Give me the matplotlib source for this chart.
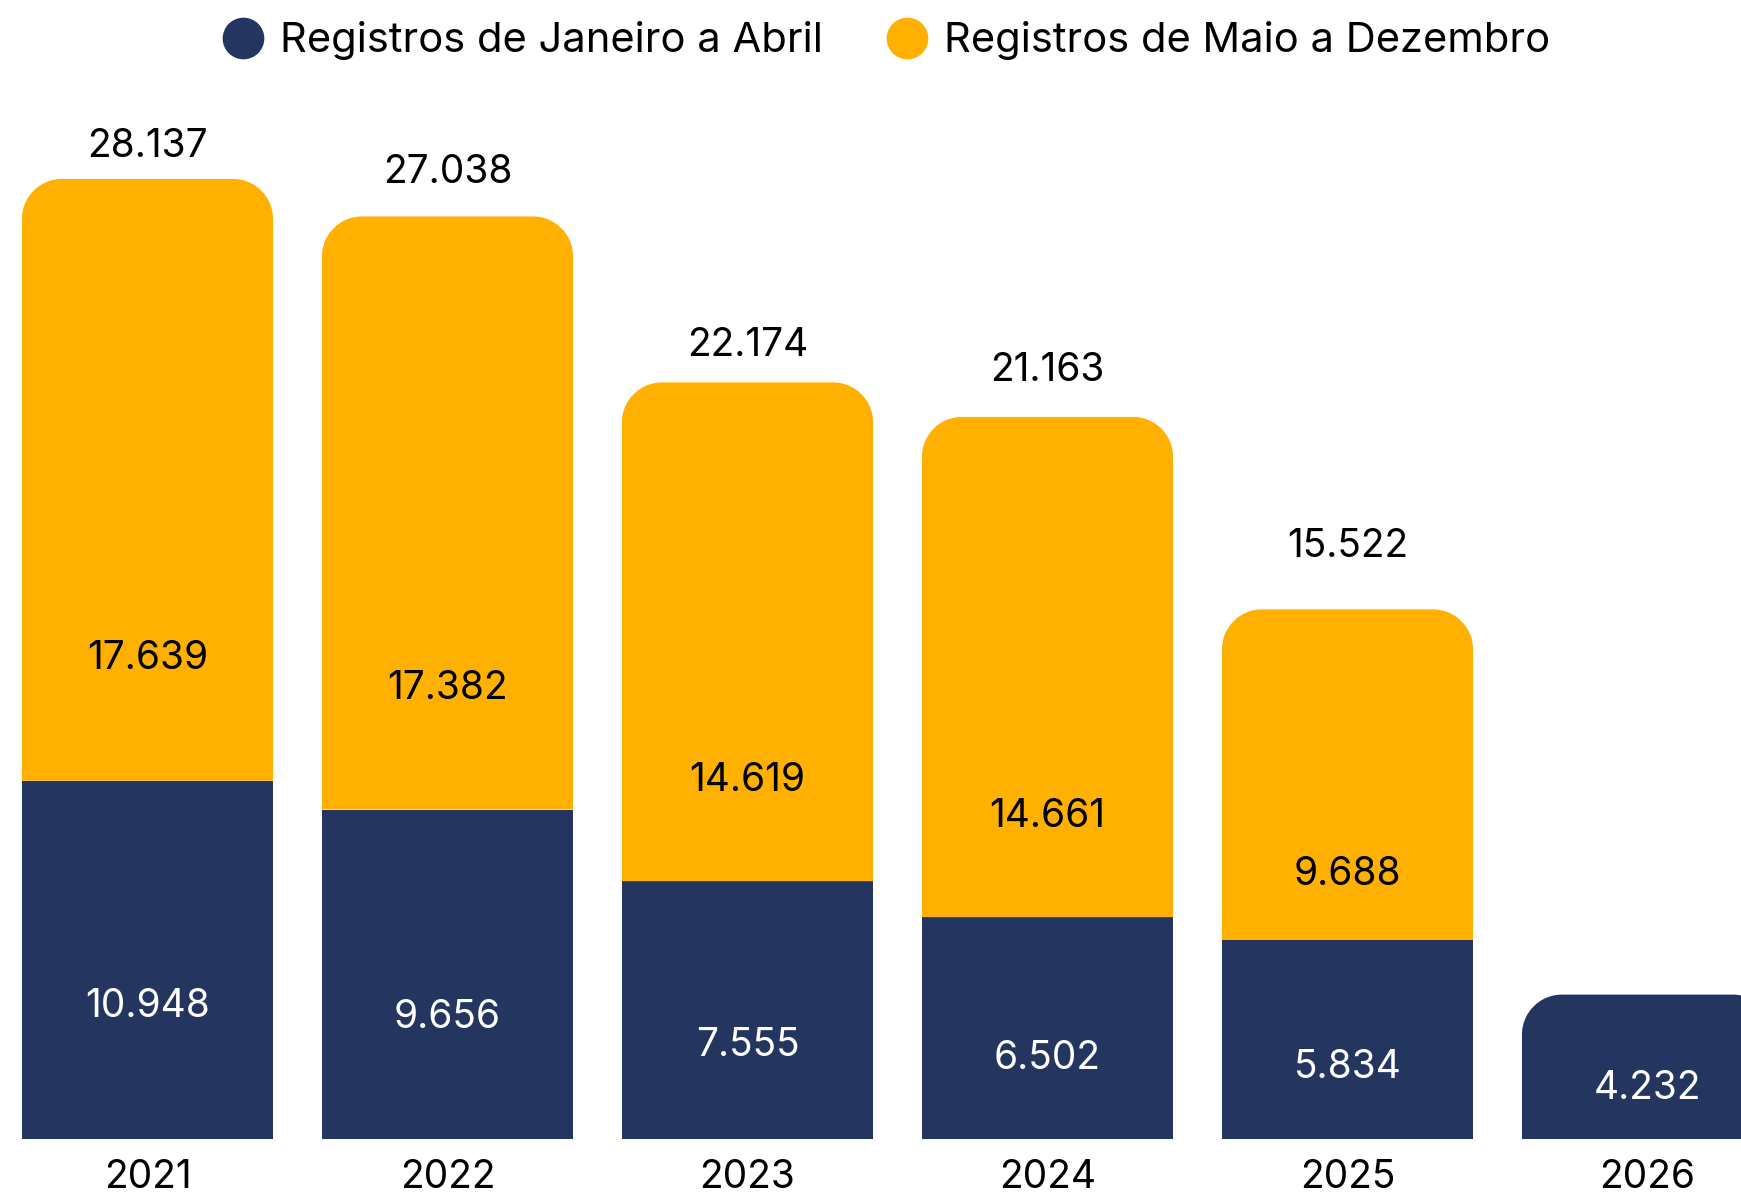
import numpy as np
import matplotlib
matplotlib.use("Agg")
import matplotlib.pyplot as plt
from matplotlib.path import Path
from matplotlib.patches import PathPatch
from matplotlib.lines import Line2D

plt.rcParams['font.family'] = ['Inter', 'DejaVu Sans']

# data
anos = ['2021', '2022', '2023', '2024', '2025', '2026']
jan_abr = [10498, 9656, 7555, 6502, 5834, 4232]      # drawn height of the 2021 bar fits 28.137 - 17.639
mai_dez = [17639, 17382, 14619, 14661, 9688, 0]
rot_jan_abr = ['10.948', '9.656', '7.555', '6.502', '5.834', '4.232']
rot_mai_dez = ['17.639', '17.382', '14.619', '14.661', '9.688', '']
rot_total = ['28.137', '27.038', '22.174', '21.163', '15.522', '']

AZUL = '#24365f'
LARANJA = '#ffb000'

W, H = 1741, 1194
fig = plt.figure(figsize=(W / 100, H / 100), dpi=100)
base_px = 1139
ax = fig.add_axes([0, (H - base_px) / H, 1, base_px / H])
px_por_unid = 0.03412
ax.set_xlim(-147.5 / 300, (W - 147.5) / 300)
ax.set_ylim(0, base_px / px_por_unid)
ax.axis('off')

x = np.arange(len(anos))
largura = 0.837


def topo_arredondado(ax, ret, r_px=40):
    # swap the plain rectangle for one with rounded top corners
    x0, y0 = ret.get_x(), ret.get_y()
    w, h = ret.get_width(), ret.get_height()
    if h <= 0:
        return
    ret.set_visible(False)
    x_lim, y_lim = ax.get_xlim(), ax.get_ylim()
    bb = ax.get_window_extent()
    rx = r_px * (x_lim[1] - x_lim[0]) / bb.width
    ry = min(r_px * (y_lim[1] - y_lim[0]) / bb.height, h)
    k = 0.5523
    y1 = y0 + h
    verts = [(x0, y0), (x0, y1 - ry),
             (x0, y1 - ry + k * ry), (x0 + rx - k * rx, y1), (x0 + rx, y1),
             (x0 + w - rx, y1),
             (x0 + w - rx + k * rx, y1), (x0 + w, y1 - ry + k * ry), (x0 + w, y1 - ry),
             (x0 + w, y0), (x0, y0)]
    codes = [Path.MOVETO, Path.LINETO,
             Path.CURVE4, Path.CURVE4, Path.CURVE4,
             Path.LINETO,
             Path.CURVE4, Path.CURVE4, Path.CURVE4,
             Path.LINETO, Path.CLOSEPOLY]
    ax.add_patch(PathPatch(Path(verts, codes), facecolor=ret.get_facecolor(),
                           edgecolor='none', lw=0))


b1 = ax.bar(x, jan_abr, width=largura, color=AZUL, linewidth=0)
b2 = ax.bar(x, mai_dez, width=largura, bottom=jan_abr, color=LARANJA, linewidth=0)

for i in range(len(anos)):
    if mai_dez[i] > 0:
        topo_arredondado(ax, b2[i])
    else:
        topo_arredondado(ax, b1[i])

fs = 28
folga_total = [10, 18, 13, 20, 32, 0]   # gap (pt) above each bar for the total
for i in range(len(anos)):
    ax.text(x[i], jan_abr[i] * 0.38, rot_jan_abr[i], ha='center', va='center_baseline',
            color='white', fontsize=fs)
    if mai_dez[i] > 0:
        ax.text(x[i], jan_abr[i] + mai_dez[i] * 0.21, rot_mai_dez[i], ha='center',
                va='center_baseline', color='black', fontsize=fs)
        ax.annotate(rot_total[i], (x[i], jan_abr[i] + mai_dez[i]),
                    xytext=(0, folga_total[i]), textcoords='offset points',
                    ha='center', va='bottom', color='black', fontsize=fs)
    ax.annotate(anos[i], (x[i], 0), xytext=(0, -35), textcoords='offset points',
                ha='center', va='baseline', color='black', fontsize=fs)

handles = [Line2D([], [], marker='o', ls='', color=AZUL, markersize=29),
           Line2D([], [], marker='o', ls='', color=LARANJA, markersize=29)]
fig.legend(handles, ['Registros de Janeiro a Abril', 'Registros de Maio a Dezembro'],
           loc='center', bbox_to_anchor=(0.509, 0.966), ncol=2, frameon=False,
           fontsize=30, handletextpad=0.4, columnspacing=1.5, handlelength=1.0)

fig.savefig('out.png', dpi=100)
